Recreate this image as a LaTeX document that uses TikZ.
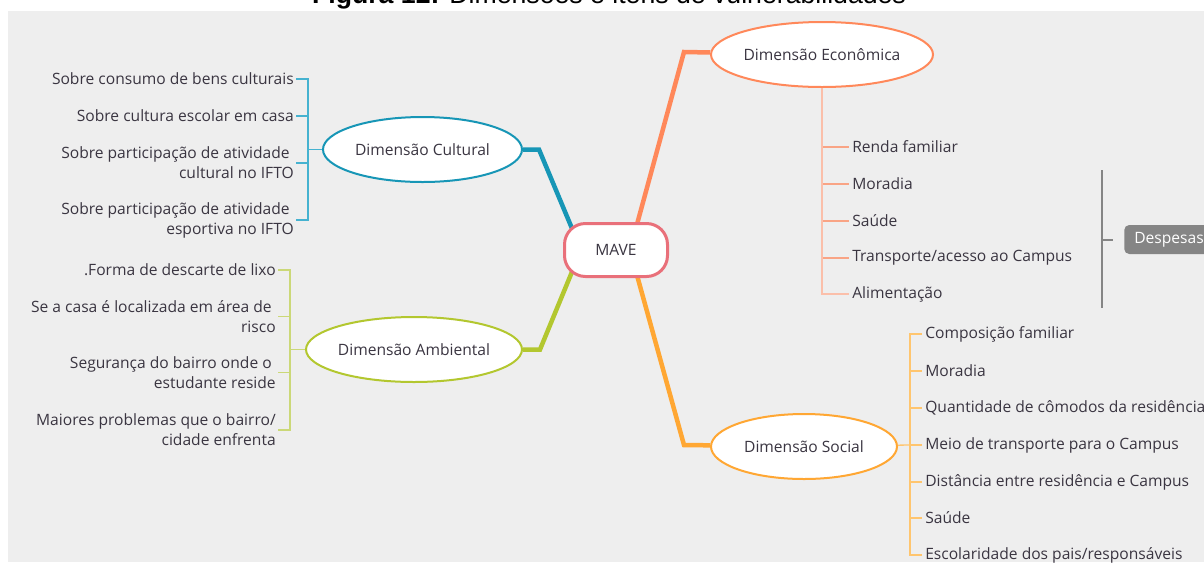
\documentclass[tikz,border=0pt]{standalone}
\usepackage{fontspec}
\setmainfont{Open Sans}
\newfontfamily\titlefont{Liberation Sans}
\usetikzlibrary{shapes.geometric,calc,backgrounds}

\definecolor{paper}{HTML}{EEEEEE}
\definecolor{ink}{HTML}{3A3541}
\definecolor{maverim}{HTML}{E9707A}
\definecolor{cultline}{HTML}{1796B6}
\definecolor{cultleaf}{HTML}{45B2D0}
\definecolor{ambline}{HTML}{B3C72F}
\definecolor{ambleaf}{HTML}{CBD877}
\definecolor{econline}{HTML}{FF885A}
\definecolor{econleaf}{HTML}{F9A485}
\definecolor{socline}{HTML}{FFA733}
\definecolor{socleaf}{HTML}{FFC56E}
\definecolor{despgray}{HTML}{858585}

% one drawing unit = one screen pixel
\newlength{\pxu}\setlength{\pxu}{0.75pt}

\begin{document}
\begin{tikzpicture}[x=0.75pt,y=-0.75pt,
    font=\fontsize{11.7}{15}\selectfont, text=ink,
    dim/.style={ellipse,draw,fill=white,line width=2\pxu,inner sep=0pt,minimum height=65\pxu},
    leafl/.style={anchor=east,align=right,inner xsep=2\pxu,inner ysep=0pt},
    leafr/.style={anchor=west,align=left,inner xsep=3\pxu,inner ysep=0pt},
    trunk/.style={line width=4.5\pxu},
    twig/.style={line width=1.3\pxu}]
    \useasboundingbox (0,0) rectangle (1204,562);

    % centre and the four dimensions
    \node[draw=maverim,fill=white,line width=3\pxu,rounded corners=21\pxu,
          minimum width=103\pxu,minimum height=53\pxu] (mave) at (616,250) {MAVE};
    \node[dim,draw=cultline,minimum width=199\pxu] (cult) at (422.5,149.5) {Dimensão Cultural};
    \node[dim,draw=ambline,minimum width=216\pxu] (amb) at (414,349.5) {Dimensão Ambiental};
    \node[dim,draw=econline,minimum width=222\pxu] (econ) at (822,54.5) {Dimensão Econômica};
    \node[dim,draw=socline,minimum width=186\pxu] (soc) at (804,446.5) {Dimensão Social};

    \coordinate (cult-k) at (539,149.5);
    \coordinate (amb-k) at (540,349.5);
    \coordinate (econ-k) at (684,52);
    \coordinate (soc-k) at (684,445);

    % cultural items
    \node[leafl] (c1) at (296,79) {Sobre consumo de bens culturais};
    \node[leafl] (c2) at (296,116) {Sobre cultura escolar em casa};
    \node[leafl] (c3) at (296,163) {Sobre participação de atividade\hspace*{4\pxu}\\cultural no IFTO};
    \node[leafl] (c4) at (296,220) {Sobre participação de atividade\hspace*{4\pxu}\\esportiva no IFTO};
    \coordinate (cult-j) at (308,149.5);

    % ambiental items
    \node[leafl] (a1) at (278,270) {.Forma de descarte de lixo};
    \node[leafl] (a2) at (278,316.5) {Se a casa é localizada em área de\hspace*{4\pxu}\\risco};
    \node[leafl] (a3) at (278,372.5) {Segurança do bairro onde o\hspace*{4\pxu}\\estudante reside};
    \node[leafl] (a4) at (278,430) {Maiores problemas que o bairro/\\cidade enfrenta};
    \coordinate (amb-j) at (290,349.5);

    % economica items
    \node[leafr] (e1) at (849,147) {Renda familiar};
    \node[leafr] (e2) at (849,184) {Moradia};
    \node[leafr] (e3) at (849,221) {Saúde};
    \node[leafr] (e4) at (849,258) {Transporte/acesso ao Campus};
    \node[leafr] (e5) at (849,294) {Alimentação};

    % social items
    \node[leafr] (s1) at (922,334) {Composição familiar};
    \node[leafr] (s2) at (922,371) {Moradia};
    \node[leafr] (s3) at (922,408) {Quantidade de cômodos da residência};
    \node[leafr] (s4) at (922,445) {Meio de transporte para o Campus};
    \node[leafr] (s5) at (922,482) {Distância entre residência e Campus};
    \node[leafr] (s6) at (922,518) {Saúde};
    \node[leafr] (s7) at (922,555) {Escolaridade dos pais/responsáveis};
    \coordinate (soc-j) at (910,445);

    % despesas bracket
    \node[anchor=west,fill=despgray,text=white,rounded corners=5\pxu,
          inner xsep=10\pxu,minimum height=29\pxu] (desp) at (1124,239.5) {Despesas};
    \coordinate (desp-top) at (1102,170);
    \coordinate (desp-bot) at (1102,308);
    \coordinate (desp-j) at (1113,239.5);

    \node[anchor=base,font=\titlefont\fontsize{20}{22}\selectfont,text=black] (title) at (609,3)
        {\textbf{Figura 12:} Dimensões e itens de vulnerabilidades};

    \begin{pgfonlayer}{background}
        \fill[white] (0,0) rectangle (1204,562);
        \fill[paper] (8,11) rectangle (1204,562);
        \draw[trunk,cultline] ($(mave.center)+(-35,0)$) -- (cult-k) -- (cult);
        \draw[trunk,ambline] ($(mave.center)+(-35,0)$) -- (amb-k) -- (amb);
        \draw[trunk,econline] ($(mave.center)+(14,0)$) -- (econ-k) -- (econ);
        \draw[trunk,socline] ($(mave.center)+(14,0)$) -- (soc-k) -- (soc);
    \end{pgfonlayer}

    \draw[twig,cultleaf] (cult) -- (cult-j);
    \draw[twig,cultleaf] (c1.east) -| (cult-j);
    \draw[twig,cultleaf] (c2.east) -| (cult-j);
    \draw[twig,cultleaf] (c3.east) -| (cult-j);
    \draw[twig,cultleaf] (c4.east) -| (cult-j);

    \draw[twig,ambleaf] (amb) -- (amb-j);
    \draw[twig,ambleaf] (a1.east) -| (amb-j);
    \draw[twig,ambleaf] (a2.east) -| (amb-j);
    \draw[twig,ambleaf] (a3.east) -| (amb-j);
    \draw[twig,ambleaf] (a4.east) -| (amb-j);

    \draw[twig,econleaf] (econ.south) |- (e1.west);
    \draw[twig,econleaf] (econ.south) |- (e2.west);
    \draw[twig,econleaf] (econ.south) |- (e3.west);
    \draw[twig,econleaf] (econ.south) |- (e4.west);
    \draw[twig,econleaf!70!white] (econ.south) |- (e5.west);

    \draw[twig,socleaf] (soc) -- (soc-j);
    \draw[twig,socleaf] (soc-j) |- (s1.west);
    \draw[twig,socleaf] (soc-j) |- (s2.west);
    \draw[twig,socleaf] (soc-j) |- (s3.west);
    \draw[twig,socleaf] (soc-j) |- (s4.west);
    \draw[twig,socleaf] (soc-j) |- (s5.west);
    \draw[twig,socleaf] (soc-j) |- (s6.west);
    \draw[twig,socleaf] (soc-j) |- (s7.west);

    \draw[line width=2\pxu,despgray] (desp-top) -- (desp-bot);
    \draw[line width=2\pxu,despgray] (desp-j -| desp-top) -- (desp-j);
\end{tikzpicture}
\end{document}
